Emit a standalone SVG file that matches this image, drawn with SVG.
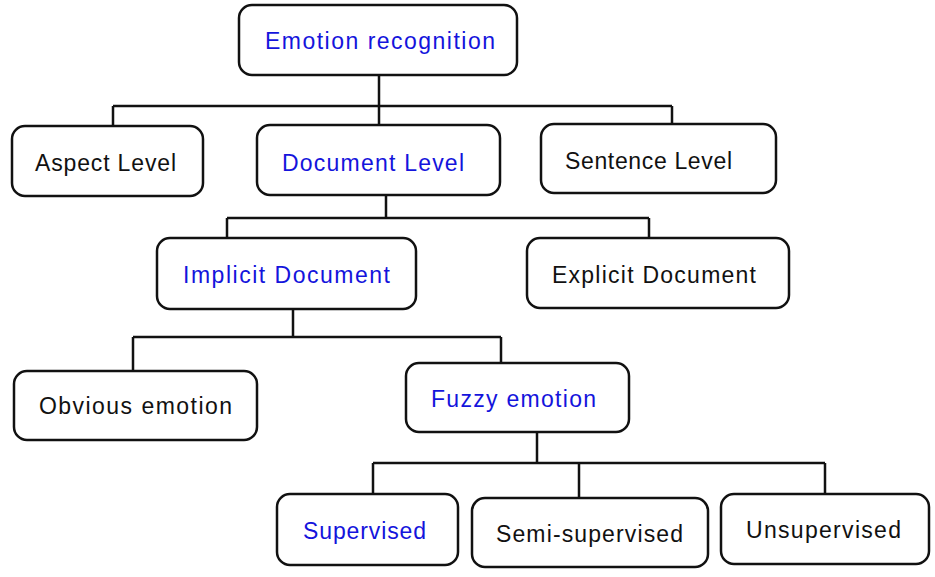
<svg xmlns="http://www.w3.org/2000/svg" width="935" height="577" viewBox="0 0 935 577">
<style>
.box{fill:#fff;stroke:#111;stroke-width:2.5}
.t{font-family:"Liberation Sans","Open Sans",sans-serif;font-size:23px;fill:#111}
.b{fill:#1414dc}
.c{fill:none;stroke:#111;stroke-width:2.5}
</style>
<rect width="935" height="577" fill="#fff"/>
<g id="connectors">
<path class="c" d="M379 75V125M113 106H672M113 106V126M672 106V124"/>
<path class="c" d="M386 195V218M227 218H649M227 218V238M649 218V238"/>
<path class="c" d="M293 309V337M133 337H501M133 337V371M501 337V363"/>
<path class="c" d="M537 432V463M373 463H825M373 463V494M579 463V498M825 463V494"/>
</g>
<g id="emotion-recognition"><rect class="box" x="239" y="5" width="278" height="70" rx="13"/><text class="t b" x="265" y="49" textLength="230" lengthAdjust="spacing">Emotion recognition</text></g>
<g id="aspect-level"><rect class="box" x="12" y="126" width="191" height="70" rx="13"/><text class="t" x="35" y="171" textLength="141" lengthAdjust="spacing">Aspect Level</text></g>
<g id="document-level"><rect class="box" x="257" y="125" width="243" height="70" rx="13"/><text class="t b" x="282" y="171" textLength="182" lengthAdjust="spacing">Document Level</text></g>
<g id="sentence-level"><rect class="box" x="541" y="124" width="235" height="69" rx="13"/><text class="t" x="565" y="169" textLength="167" lengthAdjust="spacing">Sentence Level</text></g>
<g id="implicit-document"><rect class="box" x="157" y="238" width="259" height="71" rx="13"/><text class="t b" x="183" y="283" textLength="207" lengthAdjust="spacing">Implicit Document</text></g>
<g id="explicit-document"><rect class="box" x="527" y="238" width="262" height="70" rx="13"/><text class="t" x="552" y="283" textLength="204" lengthAdjust="spacing">Explicit Document</text></g>
<g id="obvious-emotion"><rect class="box" x="14" y="371" width="243" height="69" rx="13"/><text class="t" x="39" y="414" textLength="193" lengthAdjust="spacing">Obvious emotion</text></g>
<g id="fuzzy-emotion"><rect class="box" x="406" y="363" width="223" height="69" rx="13"/><text class="t b" x="431" y="407" textLength="165" lengthAdjust="spacing">Fuzzy emotion</text></g>
<g id="supervised"><rect class="box" x="277" y="494" width="181" height="71" rx="13"/><text class="t b" x="303" y="539" textLength="123" lengthAdjust="spacing">Supervised</text></g>
<g id="semi-supervised"><rect class="box" x="472" y="498" width="236" height="69" rx="13"/><text class="t" x="496" y="542" textLength="187" lengthAdjust="spacing">Semi-supervised</text></g>
<g id="unsupervised"><rect class="box" x="721" y="494" width="208" height="70" rx="13"/><text class="t" x="746" y="538" textLength="155" lengthAdjust="spacing">Unsupervised</text></g>
</svg>
